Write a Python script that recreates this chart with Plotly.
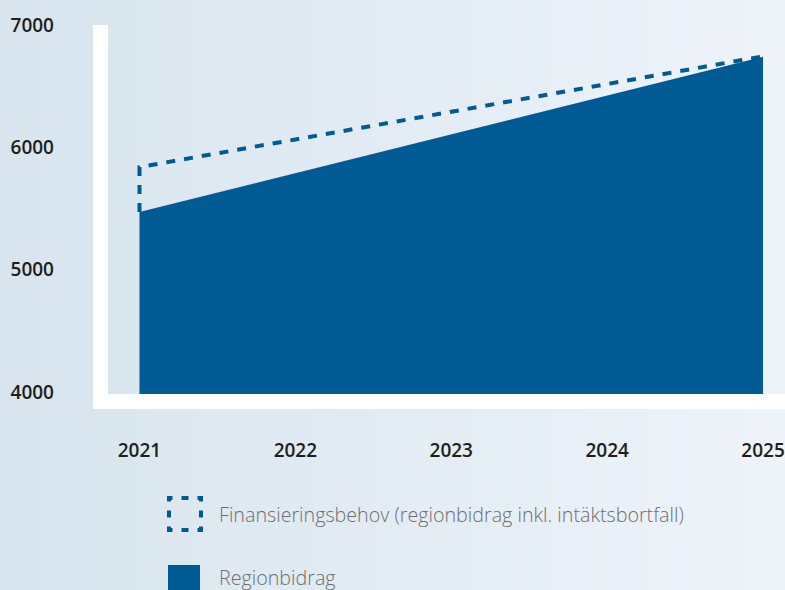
import plotly.graph_objects as go

# ---- data ----
years = [2021, 2022, 2023, 2024, 2025]
year_labels = ["2021", "2022", "2023", "2024", "2025"]
regionbidrag = [5473, 5790, 6107, 6424, 6741]
finansieringsbehov = [5839, 6065, 6290, 6518, 6745]
y_ticks = [4000, 5000, 6000, 7000]
legend_labels = ["Finansieringsbehov (regionbidrag inkl. intäktsbortfall)", "Regionbidrag"]

BLUE = "#005a94"
W, H = 785, 590
L, R, T, B = 108, 0, 25, 196
PW, PH = W - L - R, H - T - B


def px(x):
    return (x - L) / PW


def py(y):
    return (H - B - y) / PH


fig = go.Figure()

# dashed outline (financing need), starts at top of the area at the first year
fig.add_trace(go.Scatter(
    x=[years[0]] + years,
    y=[regionbidrag[0]] + finansieringsbehov,
    mode="lines",
    line=dict(color=BLUE, width=4, dash="9px,9px"),
    hoverinfo="skip",
    showlegend=False,
))
# filled area (regionbidrag)
fig.add_trace(go.Scatter(
    x=years,
    y=regionbidrag,
    mode="lines",
    fill="tozeroy",
    fillcolor=BLUE,
    line=dict(color=BLUE, width=0),
    showlegend=False,
))

shapes = []
# background gradient stripes
c0 = (216, 229, 238)
c1 = (238, 243, 249)
n = 40
for i in range(n):
    t = i / (n - 1)
    col = tuple(round(c0[k] + (c1[k] - c0[k]) * t) for k in range(3))
    shapes.append(dict(type="rect", xref="paper", yref="paper", layer="below",
                       x0=px(i * W / n), x1=px((i + 1) * W / n + 1),
                       y0=py(H), y1=py(0),
                       fillcolor="rgb(%d,%d,%d)" % col, line=dict(width=0)))
# white L-shaped axes
shapes.append(dict(type="rect", xref="paper", yref="paper", layer="below",
                   x0=px(93), x1=px(108), y0=py(409), y1=py(25),
                   fillcolor="white", line=dict(width=0)))
shapes.append(dict(type="rect", xref="paper", yref="paper", layer="below",
                   x0=px(93), x1=px(W), y0=py(409), y1=py(394),
                   fillcolor="white", line=dict(width=0)))
# legend: dashed square icon (path begins mid-side so dashes center on corners)
x0, x1, y0, y1 = 169, 201, 498, 530
path = "M %f,%f L %f,%f L %f,%f L %f,%f L %f,%f L %f,%f" % (
    px(185 - 3.5), py(y0), px(x1), py(y0), px(x1), py(y1), px(x0), py(y1),
    px(x0), py(y0), px(185 - 3.5), py(y0))
shapes.append(dict(type="path", xref="paper", yref="paper", path=path,
                   line=dict(color=BLUE, width=4, dash="7px,9px")))
# legend: solid square
shapes.append(dict(type="rect", xref="paper", yref="paper",
                   x0=px(168), x1=px(200), y0=py(597), y1=py(565),
                   fillcolor=BLUE, line=dict(width=0)))

annotations = []
for lab, yc in zip(legend_labels, [514, 577]):
    annotations.append(dict(text=lab, xref="paper", yref="paper",
                            x=px(217), y=py(yc), xanchor="left", yanchor="middle",
                            showarrow=False,
                            font=dict(family="Open Sans", size=19.7, color="#6e6e6e", weight=300)))

tickfont = dict(family="Open Sans", size=19, color="#1e1e1e", weight=600)

fig.update_layout(
    width=W, height=H,
    margin=dict(l=L, r=R, t=T, b=B, pad=0),
    paper_bgcolor="rgb(216,229,238)",
    plot_bgcolor="rgba(0,0,0,0)",
    shapes=shapes,
    annotations=annotations,
    showlegend=False,
    xaxis=dict(
        range=[2020.798, 2025.141],
        tickvals=years, ticktext=year_labels,
        showgrid=False, zeroline=False, showline=False,
        ticks="", ticklabelstandoff=43,
        tickfont=tickfont, fixedrange=True,
    ),
    yaxis=dict(
        range=[3984, 7001],
        tickvals=y_ticks, ticktext=[str(v) for v in y_ticks],
        showgrid=False, zeroline=False, showline=False,
        ticks="", ticklabelstandoff=53,
        tickfont=tickfont, fixedrange=True,
    ),
)

fig.write_html("out.html")
